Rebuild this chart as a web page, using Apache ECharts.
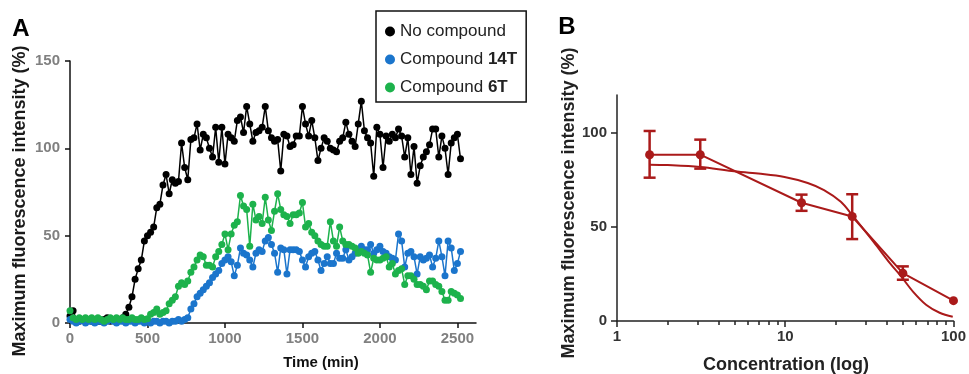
<!DOCTYPE html>
<html><head><meta charset="utf-8">
<script src="https://cdn.jsdelivr.net/npm/echarts@6/dist/echarts.min.js"></script>
<style>html,body{margin:0;padding:0;background:#fff}#c{width:969px;height:374px}</style>
</head><body><div id="c"></div>
<script>
// ---------- Panel A data ----------
var timesA = [0,20,40,60,80,100,120,140,160,180,
200,220,240,260,280,300,320,340,360,380,
400,420,440,460,480,500,520,540,560,580,
600,620,640,660,680,700,720,740,760,780,
800,820,840,860,880,900,920,940,960,980,
1000,1020,1040,1060,1080,1100,1120,1140,1160,1180,
1200,1220,1240,1260,1280,1300,1320,1340,1360,1380,
1400,1420,1440,1460,1480,1500,1520,1540,1560,1580,
1600,1620,1640,1660,1680,1700,1720,1740,1760,1780,
1800,1820,1840,1860,1880,1900,1920,1940,1960,1980,
2000,2020,2040,2060,2080,2100,2120,2140,2160,2180,
2200,2220,2240,2260,2280,2300,2320,2340,2360,2380,
2400,2420,2440,2460,2480,2500,2520];
var noCompound = [4,7,2,1,2,1,2,1,2,1,
1,2,3,1,2,1,2,3,5,9,
15,25,31,36,47,50,52,55,66,68,
79,85,74,82,80,81,103,89,82,105,
106,114,99,108,106,100,95,112,92,112,
91,108,106,104,116,118,109,124,114,104,
109,110,112,124,110,106,104,105,87,108,
107,101,102,107,107,124,114,107,116,106,
93,100,106,104,100,99,98,104,106,115,
108,104,101,114,127,110,106,103,84,112,
108,89,107,104,108,106,111,107,95,106,
85,101,80,90,95,98,102,111,111,95,
107,100,85,103,106,108,94];
var compound14T = [2,1,0,1,2,0,1,1,0,1,
1,0,1,2,1,0,1,1,0,1,
1,0,1,1,0,1,0,1,1,0,
1,1,0,1,1,2,1,2,3,8,
11,15,17,19,21,23,26,28,30,34,
36,38,35,27,33,43,40,39,36,32,
40,42,41,47,49,45,40,29,43,42,
28,42,42,42,41,36,32,38,40,41,
36,30,34,38,34,34,40,37,37,42,
36,38,40,42,44,42,42,45,40,42,
44,41,40,38,37,36,51,47,32,40,
41,38,28,38,36,37,39,32,37,47,
38,27,47,43,30,34,41];
var compound6T = [7,3,2,3,2,3,2,3,2,3,
2,1,2,3,2,3,2,3,2,2,
3,2,2,3,2,2.5,5,6,8,5,
6,7,11,13,15,21,23,22,24,29,
32,36,39,38,33,33,32,38,41,45,
51,42,51,56,58,73,67,65,44,68,
59,61,57,72,59,53,64,74,65,62,
61,57,62,62,63,69,55,57,52,50,
47,45,44,44,58,47,44,55,47,45,
45,44,43,40,41,40,39,29,37,36,
36,37,38,32,34,28,30,31,22,27,
27,25,22,22,21,19,24,24,22,21,
18,13,13,18,17,16,14];
var ticksAx = [0,500,1000,1500,2000,2500];
var seriesNamesA = ['No compound','Compound 14T','Compound 6T'];

// ---------- Panel B data ----------
var concB = [1.5625, 3.125, 12.5, 25, 50, 100];
var meanB = [88.3, 88.3, 62.8, 55.5, 25.4, 10.8];
var errLowB = [76.1, 80.9, 58.5, 43.5, 21.9, null];
var errHighB = [100.9, 96.3, 67.1, 67.3, 29.0, null];
var fitConcB = [1.5625, 2, 3.125, 4.8, 6.9, 9.9, 13.6, 17, 21.4, 25, 33.5, 42, 49, 57.6, 69, 82.7, 99];
var fitValB = [83.0, 82.8, 81.8, 79.7, 78.3, 76.5, 73.3, 69.5, 63.3, 56.2, 42, 30.6, 23.5, 15.5, 8.5, 4.4, 2.3];
var ticksBy = [0, 50, 100];
var minorTicksBx = [2,3,4,5,6,7,8,9,20,30,40,50,60,70,80,90];

function zip(a, b){ var r=[]; for (var i=0;i<a.length;i++){ if (b[i]!=null) r.push([a[i], b[i]]); } return r; }
function plain(v){ return String(Math.round(v * 1000) / 1000); }

var FONT = 'Arial, "Liberation Sans", sans-serif';
var RED = '#aa1a1a';
var errData = [];
for (var i=0;i<concB.length;i++){ if (errLowB[i]!=null) errData.push([concB[i], errLowB[i], errHighB[i]]); }

var chart = echarts.init(document.getElementById('c'), null, {renderer:'canvas'});
var axisLineA = {show:true, lineStyle:{color:'#111', width:1.5}};
var option = {
  animation: false,
  backgroundColor: '#fff',
  grid: [
    {left:70, top:61, width:406, height:262},
    {left:617, top:95, width:340, height:226}
  ],
  xAxis: [
    {type:'value', gridIndex:0, min:0, max:2620,
     axisLine: axisLineA,
     axisTick:{show:true, length:5, customValues:ticksAx, lineStyle:{color:'#111', width:1.5}},
     axisLabel:{customValues:ticksAx, formatter:plain, margin:8, color:'#808080', fontWeight:'bold', fontSize:15, fontFamily:FONT},
     splitLine:{show:false}},
    {type:'log', gridIndex:1, min:1, max:100, logBase:10,
     axisLine:{show:true, lineStyle:{color:'#222', width:1.5}},
     axisTick:{show:true, length:6, lineStyle:{color:'#222', width:1.5}},
     axisLabel:{formatter:plain, margin:8, color:'#333', fontWeight:'bold', fontSize:15, fontFamily:FONT},
     splitLine:{show:false}},
    {type:'log', gridIndex:1, min:1, max:100, logBase:10, position:'bottom',
     axisLine:{show:false},
     axisTick:{show:true, length:4, customValues:minorTicksBx, lineStyle:{color:'#222', width:1.5}},
     axisLabel:{show:false},
     splitLine:{show:false}}
  ],
  yAxis: [
    {type:'value', gridIndex:0, min:0, max:150, interval:50,
     axisLine: axisLineA,
     axisTick:{show:true, length:5, lineStyle:{color:'#111', width:1.5}},
     axisLabel:{formatter:plain, margin:10, color:'#808080', fontWeight:'bold', fontSize:15, fontFamily:FONT},
     splitLine:{show:false}},
    {type:'value', gridIndex:1, min:0, max:120,
     axisLine:{show:true, lineStyle:{color:'#222', width:1.5}},
     axisTick:{show:true, length:6, customValues:ticksBy, lineStyle:{color:'#222', width:1.5}},
     axisLabel:{customValues:ticksBy, formatter:plain, margin:10, color:'#333', fontWeight:'bold', fontSize:15, fontFamily:FONT},
     splitLine:{show:false}}
  ],
  legend: {
    data: seriesNamesA,
    orient:'vertical', left:376, top:11,
    itemWidth:10, itemHeight:10, itemGap:11,
    padding:[12, 9, 6, 9],
    borderColor:'#111', borderWidth:1.5, borderRadius:0, backgroundColor:'#fff',
    icon:'circle',
    textStyle:{fontSize:17, color:'#222', fontFamily:FONT,
      rich:{n:{fontSize:17, color:'#222', fontFamily:FONT}, b:{fontSize:17, color:'#222', fontWeight:'bold', fontFamily:FONT}}},
    formatter:function(name){
      if (name.indexOf('Compound ')===0) return '{n|Compound }{b|' + name.substring(9) + '}';
      return '{n|' + name + '}';
    }
  },
  graphic: [
    {type:'text', x:21, y:29, style:{text:'A', font:'bold 24px ' + FONT, fill:'#000', textAlign:'center', textVerticalAlign:'middle'}},
    {type:'text', x:567, y:27, style:{text:'B', font:'bold 24px ' + FONT, fill:'#000', textAlign:'center', textVerticalAlign:'middle'}},
    {type:'text', x:20, y:201, rotation:Math.PI/2, style:{text:'Maximum fluorescence intensity (%)', font:'bold 18px ' + FONT, fill:'#1a1a1a', textAlign:'center', textVerticalAlign:'middle'}},
    {type:'text', x:569, y:203, rotation:Math.PI/2, style:{text:'Maximum fluorescence intensity (%)', font:'bold 18px ' + FONT, fill:'#222', textAlign:'center', textVerticalAlign:'middle'}},
    {type:'text', x:321, y:363, style:{text:'Time (min)', font:'bold 15px ' + FONT, fill:'#111', textAlign:'center', textVerticalAlign:'middle'}},
    {type:'text', x:786, y:365, style:{text:'Concentration (log)', font:'bold 18px ' + FONT, fill:'#222', textAlign:'center', textVerticalAlign:'middle'}}
  ],
  series: [
    {name:seriesNamesA[0], type:'line', xAxisIndex:0, yAxisIndex:0, data:zip(timesA, noCompound),
     symbol:'circle', symbolSize:7, showAllSymbol:true, clip:false,
     lineStyle:{color:'#000', width:1.5}, itemStyle:{color:'#000'}},
    {name:seriesNamesA[1], type:'line', xAxisIndex:0, yAxisIndex:0, data:zip(timesA, compound14T),
     symbol:'circle', symbolSize:7, showAllSymbol:true, clip:false,
     lineStyle:{color:'#1b75cc', width:1.5}, itemStyle:{color:'#1b75cc'}},
    {name:seriesNamesA[2], type:'line', xAxisIndex:0, yAxisIndex:0, data:zip(timesA, compound6T),
     symbol:'circle', symbolSize:7, showAllSymbol:true, clip:false,
     lineStyle:{color:'#1db24c', width:1.5}, itemStyle:{color:'#1db24c'}},
    {name:'fit', type:'line', xAxisIndex:1, yAxisIndex:1, data:zip(fitConcB, fitValB),
     smooth:0.35, showSymbol:false, clip:false, lineStyle:{color:RED, width:2}, itemStyle:{color:RED}},
    {name:'mean', type:'line', xAxisIndex:1, yAxisIndex:1, data:zip(concB, meanB),
     symbol:'circle', symbolSize:9, clip:false, lineStyle:{color:RED, width:2}, itemStyle:{color:RED}},
    {name:'err', type:'custom', xAxisIndex:1, yAxisIndex:1, data:errData, clip:false,
     encode:{x:0, y:[1,2]},
     renderItem:function(params, api){
       var x = api.value(0), lo = api.value(1), hi = api.value(2);
       var pLo = api.coord([x, lo]), pHi = api.coord([x, hi]);
       var w = 6;
       var st = {stroke:RED, lineWidth:2.5, fill:null};
       return {type:'group', children:[
         {type:'line', shape:{x1:pLo[0], y1:pLo[1], x2:pHi[0], y2:pHi[1]}, style:st},
         {type:'line', shape:{x1:pLo[0]-w, y1:pLo[1], x2:pLo[0]+w, y2:pLo[1]}, style:st},
         {type:'line', shape:{x1:pHi[0]-w, y1:pHi[1], x2:pHi[0]+w, y2:pHi[1]}, style:st}
       ]};
     }}
  ]
};
chart.setOption(option);
</script></body></html>
